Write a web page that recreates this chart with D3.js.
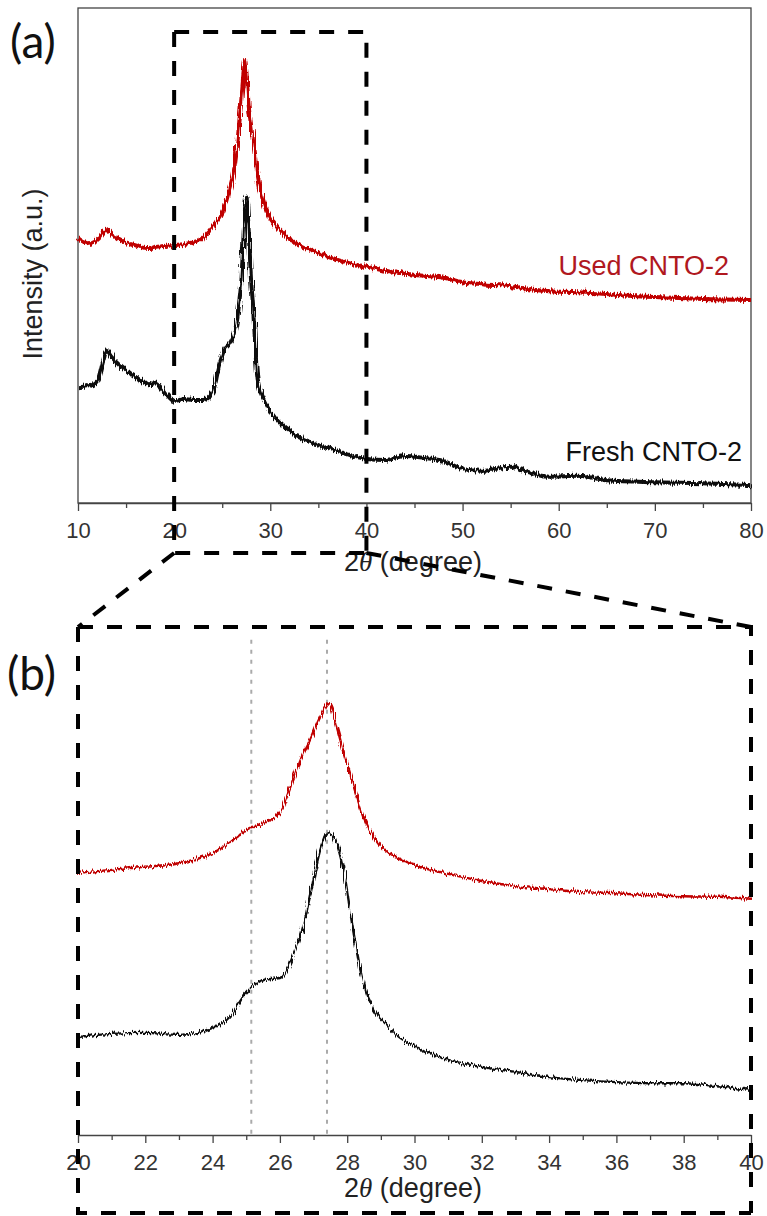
<!DOCTYPE html>
<html>
<head>
<meta charset="utf-8">
<script src="https://d3js.org/d3.v7.min.js"></script>
<style>
body { margin: 0; background: #fff; }
svg { display: block; }
.axis text { font-family: "Liberation Sans", Arial, sans-serif; font-size: 22px; fill: #333; }
.axis path, .axis line { stroke: #444; stroke-width: 1.3; }
.lbl { font-family: "Liberation Sans", Arial, sans-serif; font-size: 27px; }
.panel { font-family: Lato, "Open Sans", sans-serif; font-size: 46px; fill: #111; }
</style>
</head>
<body>
<div id="chart"></div>
<script>
// panel (a): full scan, 2theta 10-80
var anglesA = [10, 11, 12, 12.6, 13, 13.5, 14.5, 15.5, 16.5, 17.5, 18, 19, 20, 21, 22, 23, 24, 24.7, 25.3, 25.8,
  26.2, 26.5, 26.8, 27.0, 27.2, 27.4, 27.5, 27.75, 28.0, 28.2, 28.4, 28.6, 28.9, 29.3, 29.7, 30.5, 31.3, 33, 35, 37,
  39, 40, 42, 44, 46, 48, 50, 52, 55, 57, 59, 62, 65, 70, 75, 80];
var freshA = [23.4, 23.6, 24.6, 28.5, 30.9, 29.5, 27.5, 26.1, 24.8, 24.0, 24.4, 22.4, 20.6, 21.0, 20.8, 20.8, 22.2, 27.9, 31.3, 32.3,
  33.9, 36.4, 41.0, 45.1, 53.1, 60.2, 61.8, 55.2, 45.1, 40.0, 32.9, 26.5, 23.2, 21.2, 19.6, 17.2, 15.6, 13.3, 11.7, 10.5,
  9.3, 8.9, 8.7, 9.5, 9.1, 8.5, 6.9, 6.5, 7.3, 6.1, 5.3, 5.5, 4.6, 4.2, 4.0, 3.6];
var usedA = [53.5, 52.5, 53.1, 54.5, 55.2, 54.3, 53.1, 52.3, 51.7, 51.5, 51.7, 51.9, 52.1, 52.3, 52.7, 53.5, 55.6, 57.6, 60.2, 63.8,
  66.9, 71.3, 77.4, 81.8, 86.5, 89.5, 87.5, 80.4, 76.4, 73.3, 70.3, 67.3, 63.8, 60.8, 58.6, 56.2, 54.5, 52.1, 50.5, 49.1,
  48.1, 47.7, 46.9, 46.3, 45.9, 45.5, 44.6, 44.2, 43.8, 43.2, 42.8, 42.6, 42.2, 41.6, 41.2, 41.0];

// panel (b): zoom 20-40
var anglesB = [20, 21, 22, 23, 24, 24.5, 25, 25.5, 26, 26.2, 26.4, 26.7, 26.9, 27.2, 27.45, 27.7, 27.9, 28.2, 28.5, 28.8,
  29.1, 29.5, 30, 30.5, 31, 32, 33, 34, 35, 36, 37, 38, 39, 40];
var usedB = [51.6, 52.2, 52.8, 53.5, 55.5, 57.5, 60.0, 61.4, 63.4, 66.5, 69.9, 75.2, 77.8, 82.3, 85.0, 80.1, 75.2, 68.5, 62.4, 58.5,
  56.1, 54.5, 53.1, 52.2, 51.4, 50.0, 49.0, 48.4, 47.8, 47.6, 47.2, 47.0, 46.9, 46.5];
var freshB = [19.3, 19.9, 20.1, 19.7, 21.1, 23.2, 28.0, 30.5, 30.9, 32.5, 35.4, 41.3, 47.2, 56.1, 59.6, 57.1, 51.8, 39.4, 29.5, 24.6,
  22.2, 19.5, 17.5, 15.9, 14.8, 13.4, 12.4, 11.4, 10.8, 10.4, 10.2, 10.2, 9.6, 8.9];
var refPeaks = [25.15, 27.4];

var ticksA = [10, 20, 30, 40, 50, 60, 70, 80];
var minorA = [15, 25, 35, 45, 55, 65, 75];
var ticksB = [20, 22, 24, 26, 28, 30, 32, 34, 36, 38, 40];
var minorB = [21, 23, 25, 27, 29, 31, 33, 35, 37, 39];

var red = "#c00000", black = "#111";

var svg = d3.select("#chart").append("svg")
    .attr("width", 767)
    .attr("height", 1216);

// rough texture so the scans read like raw detector traces
var filt = svg.append("defs").append("filter")
    .attr("id", "grain")
    .attr("filterUnits", "userSpaceOnUse")
    .attr("x", 0).attr("y", 0).attr("width", 767).attr("height", 1216);
filt.append("feTurbulence")
    .attr("type", "fractalNoise")
    .attr("baseFrequency", "0.9 0.05")
    .attr("numOctaves", 2)
    .attr("seed", 3)
    .attr("result", "n");
filt.append("feDisplacementMap")
    .attr("in", "SourceGraphic")
    .attr("in2", "n")
    .attr("scale", 7)
    .attr("xChannelSelector", "R")
    .attr("yChannelSelector", "G");

var xA = d3.scaleLinear().domain([10, 80]).range([78, 751]);
var yA = d3.scaleLinear().domain([0, 100]).range([503, 8]);
var xB = d3.scaleLinear().domain([20, 40]).range([78, 751]);
var yB = d3.scaleLinear().domain([0, 100]).range([1135, 627]);

// frame of (a)
svg.append("rect")
    .attr("x", 78).attr("y", 8)
    .attr("width", 673).attr("height", 495)
    .attr("fill", "none")
    .attr("stroke", "#444")
    .attr("stroke-width", 1.3);

function drawAxis(x, y0, major, minor) {
  svg.append("g")
      .attr("class", "axis")
      .attr("transform", "translate(0," + y0 + ")")
      .call(d3.axisBottom(x).tickValues(minor).tickSize(5).tickFormat(""))
      .call(function(g) { g.select(".domain").remove(); });
  svg.append("g")
      .attr("class", "axis")
      .attr("transform", "translate(0," + y0 + ")")
      .call(d3.axisBottom(x).tickValues(major).tickSize(8).tickPadding(11).tickSizeOuter(0).tickFormat(d3.format("d")));
}
drawAxis(xA, 503, ticksA, minorA);
drawAxis(xB, 1135, ticksB, minorB);

function series(x, y, angles, vals) {
  return d3.line()
      .x(function(d, i) { return x(angles[i]); })
      .y(function(d) { return y(d); })
      .curve(d3.curveMonotoneX)(vals);
}

function trace(d, colour, w) {
  svg.append("path").attr("d", d)
      .attr("fill", "none")
      .attr("stroke", colour)
      .attr("stroke-width", w)
      .attr("stroke-linejoin", "round")
      .attr("filter", "url(#grain)");
}

trace(series(xA, yA, anglesA, usedA), red, 4);
trace(series(xA, yA, anglesA, freshA), black, 4);

svg.selectAll(".ref")
    .data(refPeaks)
  .enter().append("line")
    .attr("class", "ref")
    .attr("x1", function(d) { return xB(d); })
    .attr("x2", function(d) { return xB(d); })
    .attr("y1", yB(97.5))
    .attr("y2", yB(0))
    .attr("stroke", "#aaa")
    .attr("stroke-width", 2)
    .attr("stroke-dasharray", "4,6");

trace(series(xB, yB, anglesB, usedB), red, 2.4);
trace(series(xB, yB, anglesB, freshB), black, 2.4);

// labels
svg.append("text").attr("class", "lbl")
    .attr("x", 729).attr("y", 275)
    .attr("text-anchor", "end")
    .attr("fill", "#b0181e")
    .text("Used CNTO-2");
svg.append("text").attr("class", "lbl")
    .attr("x", 742).attr("y", 461)
    .attr("text-anchor", "end")
    .attr("fill", "#111")
    .text("Fresh CNTO-2");

svg.append("text").attr("class", "lbl")
    .attr("transform", "translate(42,274) rotate(-90)")
    .attr("text-anchor", "middle")
    .attr("fill", "#222")
    .text("Intensity (a.u.)");

[571, 1197].forEach(function(yy) {
  var t = svg.append("text").attr("class", "lbl")
      .attr("x", 413).attr("y", yy)
      .attr("text-anchor", "middle")
      .attr("fill", "#222");
  t.append("tspan").text("2");
  t.append("tspan").attr("font-family", "Liberation Serif, serif").attr("font-style", "italic").text("\u03B8");
  t.append("tspan").text(" (degree)");
});

svg.append("text").attr("class", "panel").attr("x", 10).attr("y", 58).text("(a)");
svg.append("text").attr("class", "panel").attr("x", 7).attr("y", 690).text("(b)");

// zoom box and connectors
var zoomPath = d3.path();
zoomPath.moveTo(xA(20), 32); zoomPath.lineTo(xA(40), 32); zoomPath.lineTo(xA(40), 553);
zoomPath.moveTo(xA(20), 32); zoomPath.lineTo(xA(20), 553); zoomPath.lineTo(xA(40), 553);
zoomPath.moveTo(xA(20), 553); zoomPath.lineTo(xB(20), 627);
zoomPath.moveTo(xA(40), 553); zoomPath.lineTo(xB(40), 627);
zoomPath.moveTo(xB(20), 627); zoomPath.lineTo(xB(40), 627); zoomPath.lineTo(xB(40), 1213);
zoomPath.moveTo(xB(20), 627); zoomPath.lineTo(xB(20), 1213); zoomPath.lineTo(xB(40), 1213);

svg.append("path")
    .attr("d", zoomPath.toString())
    .attr("fill", "none")
    .attr("stroke", "#000")
    .attr("stroke-width", 4)
    .attr("stroke-dasharray", "15,14");
</script>
</body>
</html>
